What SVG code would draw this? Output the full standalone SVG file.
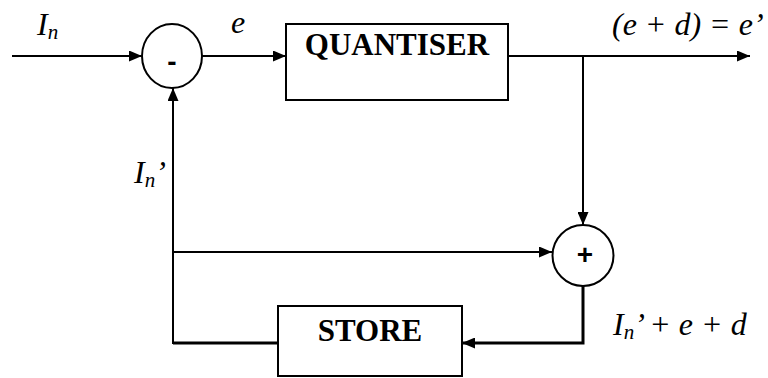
<svg xmlns="http://www.w3.org/2000/svg" width="768" height="378" viewBox="0 0 768 378">
<style>
.box{fill:#fff;stroke:#000;stroke-width:2}
.c{fill:#fff;stroke:#000;stroke-width:2}
.ln{fill:none;stroke:#000;stroke-width:2}
.thk{fill:none;stroke:#000;stroke-width:3}
.bt{font-family:"Liberation Serif","Times New Roman",serif;font-weight:bold;font-size:31px;text-anchor:middle}
.it{font-family:"Liberation Serif","Times New Roman",serif;font-style:italic;font-size:32px}
.sg{font-family:"Liberation Sans",Arial,sans-serif;font-size:28px;font-weight:bold;text-anchor:middle}
</style>
<defs>
<marker id="ah" markerUnits="userSpaceOnUse" markerWidth="13" markerHeight="11" refX="13" refY="5.5" orient="auto">
<path d="M0,0 L13,5.5 L0,11 z" fill="#000"/>
</marker>
</defs>
<g id="connectors">
<path class="ln" d="M12,56 H142" marker-end="url(#ah)"/>
<path class="ln" d="M202,56 H286" marker-end="url(#ah)"/>
<path class="ln" d="M508,56 H750" marker-end="url(#ah)"/>
<path class="ln" d="M583,56 V225" marker-end="url(#ah)"/>
<path class="thk" d="M583,286 V343 H462" marker-end="url(#ah)"/>
<path class="thk" d="M278,343 H173"/>
<path class="ln" d="M173,344 V88" marker-end="url(#ah)"/>
<path class="ln" d="M173,252 H552" marker-end="url(#ah)"/>
</g>
<g id="subtract">
<ellipse class="c" cx="172" cy="56" rx="30" ry="32"/>
<text class="sg" x="172" y="71">-</text>
</g>
<g id="quantiser">
<rect class="box" x="286" y="24" width="222" height="76"/>
<text class="bt" x="397" y="55">QUANTISER</text>
</g>
<g id="add">
<circle class="c" cx="583" cy="255.5" r="30.5"/>
<text class="sg" x="585" y="264" font-size="38">+</text>
</g>
<g id="store">
<rect class="box" x="278" y="306" width="184" height="70"/>
<text class="bt" x="370" y="341">STORE</text>
</g>
<g id="labels">
<text class="it" x="37" y="35">I<tspan font-size="21" dy="4">n</tspan></text>
<text class="it" x="231" y="33">e</text>
<text class="it" x="612" y="35">(e + d) = e’</text>
<text class="it" x="134" y="183">I<tspan font-size="21" dy="4">n</tspan><tspan dy="-4">’</tspan></text>
<text class="it" x="613" y="335">I<tspan font-size="21" dy="4">n</tspan><tspan dy="-4">’ + e + d</tspan></text>
</g>
</svg>
